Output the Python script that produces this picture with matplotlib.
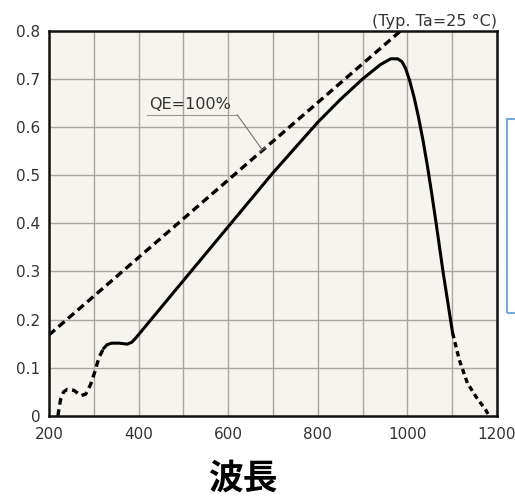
import matplotlib
matplotlib.use("Agg")
import matplotlib.pyplot as plt
from matplotlib.patches import Rectangle

plt.rcParams['font.family'] = ['DejaVu Sans', 'Noto Sans CJK JP']

# 受光感度の読み取り値 (波長 nm, A/W)
lowWl = [220, 226, 233, 241, 256, 271, 282, 293, 303, 312, 322]
lowVal = [0.0, 0.034, 0.05, 0.055, 0.053, 0.042, 0.045, 0.065, 0.093, 0.122, 0.14]

mainWl = [322, 330, 340, 357, 375, 385, 395, 500, 600, 700, 800, 850, 900, 940,
          963, 978, 988, 996, 1005, 1015, 1025, 1035, 1045, 1055, 1065, 1080, 1101]
mainVal = [0.14, 0.148, 0.151, 0.151, 0.149, 0.153, 0.163, 0.281, 0.393, 0.505,
           0.610, 0.657, 0.700, 0.730, 0.742, 0.742, 0.736, 0.722, 0.697, 0.662,
           0.620, 0.572, 0.518, 0.458, 0.395, 0.297, 0.172]

highWl = [1101, 1116, 1134, 1153, 1175, 1182]
highVal = [0.172, 0.116, 0.068, 0.040, 0.012, 0.0]

# QE=100% の線
qeWl = [200, 985]
qeVal = [0.168, 0.8]

xTicks = [200, 400, 600, 800, 1000, 1200]
yTicks = [0, 0.1, 0.2, 0.3, 0.4, 0.5, 0.6, 0.7, 0.8]
yLabels = ['0', '0.1', '0.2', '0.3', '0.4', '0.5', '0.6', '0.7', '0.8']

fig = plt.figure(figsize=(5.15, 4.98), dpi=100)
ax = fig.add_axes([0.095, 0.165, 0.87, 0.773])
ax.set_facecolor('#f6f4ef')

ax.set_xlim(200, 1200)
ax.set_ylim(0, 0.8)
ax.set_yticks(yTicks)
ax.set_yticklabels(yLabels)

# 目盛りラベルは200おき、グリッドは100おき
ax.set_xticks(xTicks)
ax.set_xticks(range(300, 1200, 200), minor=True)
ax.grid(True, color='#aaa69f', linewidth=1.0)
ax.grid(True, which='minor', axis='x', color='#aaa69f', linewidth=1.0)
ax.set_axisbelow(True)
ax.tick_params(which='both', length=0, labelsize=11, labelcolor='#333333', pad=6)
ax.tick_params(axis='x', pad=8)

for s in ax.spines.values():
    s.set_color('#111111')
    s.set_linewidth(1.8)

ax.plot(qeWl, qeVal, color='black', linewidth=2.4, linestyle=(0, (2.4, 1.4)))
ax.plot(lowWl, lowVal, color='black', linewidth=2.4, linestyle=(0, (2.0, 1.4)))
ax.plot(mainWl, mainVal, color='black', linewidth=2.2, solid_capstyle='round',
        solid_joinstyle='round')
ax.plot(highWl, highVal, color='black', linewidth=2.4, linestyle=(0, (1.6, 1.2)))

# 注記
ax.annotate('', xy=(676, 0.553), xytext=(620, 0.626),
            arrowprops=dict(arrowstyle='-[, widthB=0.25, lengthB=0.05',
                            color='#777777', linewidth=0.8, shrinkA=0, shrinkB=0))
ax.plot([420, 620], [0.626, 0.626], color='#999999', linewidth=0.8)
ax.text(423, 0.632, 'QE=100%', fontsize=11.5, color='#333333', va='bottom')

ax.text(1.0, 1.006, '(Typ. Ta=25 °C)', transform=ax.transAxes,
        ha='right', va='bottom', fontsize=11.5, color='#333333')

fig.text(0.472, 0.04, '波長', ha='center', va='center', fontsize=25,
         fontweight='bold', family=['Noto Sans CJK JP', 'DejaVu Sans'])

# 右側の枠
fig.patches.append(Rectangle((507 / 515, 1 - 313 / 498), 0.05, 194 / 498,
                             transform=fig.transFigure, fill=False,
                             edgecolor='#7aa7de', linewidth=1.5))

fig.savefig('out.png', dpi=100, facecolor='white')
